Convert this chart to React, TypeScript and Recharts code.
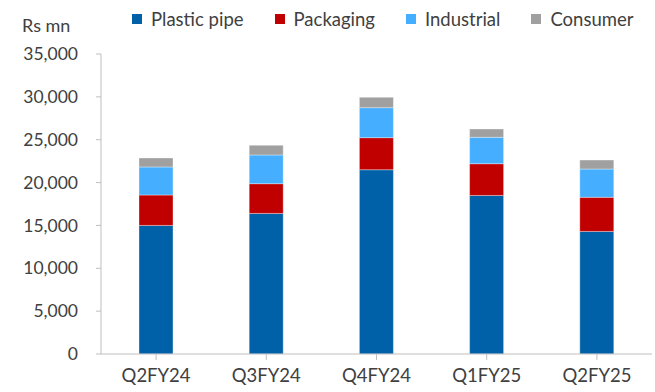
import React from 'react';
import { BarChart, Bar, XAxis, YAxis, Legend } from 'recharts';

const categories = ['Q2FY24', 'Q3FY24', 'Q4FY24', 'Q1FY25', 'Q2FY25'];
const plasticPipe = [15000, 16400, 21500, 18500, 14300];
const packaging = [3550, 3470, 3740, 3700, 3980];
const industrial = [3270, 3350, 3500, 3080, 3300];
const consumer = [1050, 1130, 1210, 970, 1050];
const yTicks = [0, 5000, 10000, 15000, 20000, 25000, 30000, 35000];

const data = categories.map((c, i) => ({
  name: c,
  plastic: plasticPipe[i],
  packaging: packaging[i],
  industrial: industrial[i],
  consumer: consumer[i],
}));

const series = [
  { key: 'plastic', label: 'Plastic pipe', color: '#0061A8' },
  { key: 'packaging', label: 'Packaging', color: '#C00000' },
  { key: 'industrial', label: 'Industrial', color: '#45AEFF' },
  { key: 'consumer', label: 'Consumer', color: '#A0A0A0' },
];

const FONT = 'Lato, sans-serif';

const LegendContent = () => (
  <div style={{ display: 'flex', flexWrap: 'nowrap', whiteSpace: 'nowrap', fontFamily: FONT, fontSize: 18.5, color: '#404040', lineHeight: '20px', height: 20 }}>
    {series.map((s) => (
      <div key={s.key} style={{ display: 'flex', alignItems: 'center', flexShrink: 0, marginRight: 31 }}>
        <span style={{ display: 'inline-block', width: 10, height: 10, background: s.color, marginRight: 9, flexShrink: 0 }} />
        <span style={{ whiteSpace: 'nowrap' }}>{s.label}</span>
      </div>
    ))}
  </div>
);

export default function App() {
  return (
    <div style={{ position: 'absolute', left: 0, top: 0, width: 655, height: 392, background: '#fff' }}>
      <BarChart
        width={655}
        height={392}
        data={data}
        margin={{ top: 34, right: 3, bottom: 8, left: 0 }}
        barSize={34}
      >
        <XAxis
          dataKey="name"
          height={30}
          stroke="#BFBFBF"
          tickLine={{ stroke: '#BFBFBF' }}
          tickSize={6}
          tickMargin={9}
          tick={{ fill: '#404040', fontSize: 18.5, fontFamily: FONT }}
          interval={0}
        />
        <YAxis
          width={101}
          domain={[0, 35000]}
          ticks={yTicks}
          interval={0}
          stroke="#BFBFBF"
          tickSize={5}
          tickMargin={18}
          tickFormatter={(v: number) => v.toLocaleString('en-US')}
          tick={{ fill: '#404040', fontSize: 17.5, fontFamily: FONT }}
        />
        <Legend
          verticalAlign="top"
          align="left"
          height={20}
          content={<LegendContent />}
          wrapperStyle={{ top: 9, left: 132, width: 523, height: 20 }}
        />
        {series.map((s) => (
          <Bar
            key={s.key}
            dataKey={s.key}
            name={s.label}
            stackId="a"
            fill={s.color}
            stroke="#ffffff"
            strokeOpacity={0.35}
            strokeWidth={1}
            isAnimationActive={false}
          />
        ))}
      </BarChart>
      <div style={{ position: 'absolute', left: 22, top: 15, fontFamily: FONT, fontSize: 18, color: '#404040', lineHeight: '20px' }}>
        Rs mn
      </div>
    </div>
  );
}
